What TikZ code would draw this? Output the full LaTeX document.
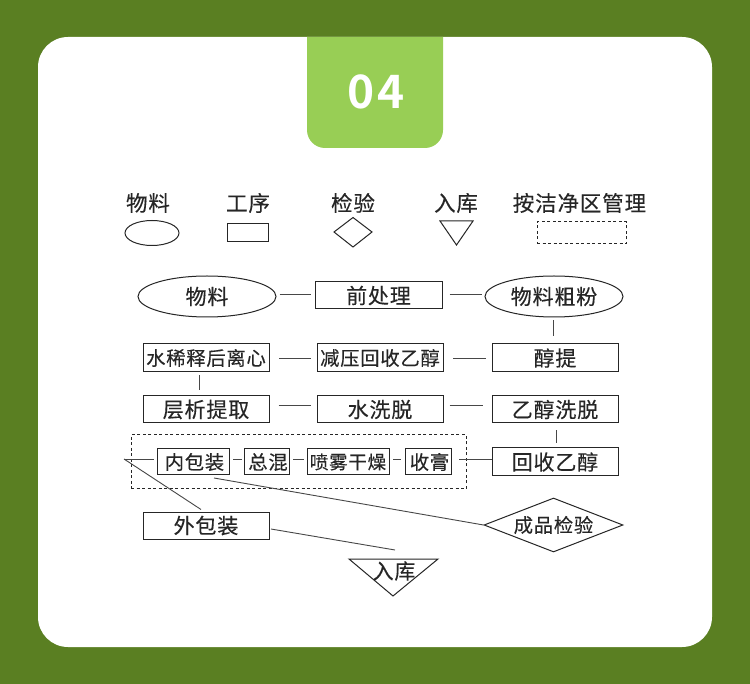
\documentclass[tikz,border=0pt]{standalone}
\usepackage{fontspec}
\usetikzlibrary{shapes.geometric}
\newfontfamily\cjk[LetterSpace=4,FakeBold=0.25]{Noto Sans CJK SC}
\newfontfamily\numfont[LetterSpace=8]{Noto Sans CJK SC Bold}
\definecolor{bggreen}{HTML}{5A7F22}
\definecolor{badgegreen}{HTML}{98CE55}
\definecolor{ink}{HTML}{262626}
\newcommand{\legtxt}{\cjk\fontsize{21.5}{21.5}\selectfont}
\newcommand{\bigtxt}{\cjk\fontsize{21}{21}\selectfont}
\newcommand{\midtxt}{\cjk\fontsize{19.3}{19.3}\selectfont}
\newcommand{\smtxt}{\cjk\fontsize{18.5}{18.5}\selectfont}
\tikzset{
  lbl/.style={inner sep=0pt,text=ink,font=\legtxt},
  rectbox/.style={draw=ink,line width=1pt,inner sep=0pt,text=ink,font=\bigtxt,minimum width=126pt,minimum height=27pt},
  smallbox/.style={rectbox,font=\midtxt,minimum height=26pt},
  ovalbox/.style={ellipse,draw=ink,line width=1pt,inner sep=0pt,text=ink,font=\bigtxt,minimum width=138pt,minimum height=41pt},
  conn/.style={draw=ink!85,line width=0.9pt},
  outline/.style={draw=ink,line width=1pt},
  dashbox/.style={draw=ink,line width=1pt,dash pattern=on 3pt off 2.5pt,inner sep=0pt}
}
\begin{document}
\begin{tikzpicture}[x=1pt,y=-1pt]
\useasboundingbox (0,0) rectangle (750,684);
\fill[bggreen] (0,0) rectangle (750,684);
\fill[white,rounded corners=30pt] (38,37) rectangle (712,647);
\fill[badgegreen] (307,37) -- (443,37) -- (443,130) arc[start angle=0,end angle=90,radius=18pt,y radius=-18pt] -- (325,148) arc[start angle=90,end angle=180,radius=18pt,y radius=-18pt] -- cycle;
\node[inner sep=0pt,text=white,font=\numfont\fontsize{46}{46}\selectfont] (num) at (376,92) {04};

% legend
\node[lbl] (l1) at (148,203) {物料};
\node[lbl] (l2) at (248,203) {工序};
\node[lbl] (l3) at (353,203) {检验};
\node[lbl] (l4) at (456,203) {入库};
\node[lbl] (l5) at (579.5,203) {按洁净区管理};
\node[ellipse,draw=ink,line width=1pt,minimum width=54pt,minimum height=25pt,inner sep=0pt] (s1) at (152,233) {};
\node[draw=ink,line width=1pt,minimum width=41pt,minimum height=18pt,inner sep=0pt] (s2) at (247.5,233) {};
\draw[outline] (334,232) -- (353,217.5) -- (372,232) -- (353,247) -- cycle;
\draw[outline] (440,221) -- (473,221) -- (456.5,245) -- cycle;
\node[dashbox,minimum width=89pt,minimum height=22pt] (s5) at (581.5,233) {};

% flow
\node[ovalbox] (wl) at (207,296.5) {物料};
\node[rectbox,minimum width=127pt] (qcl) at (378.5,295.5) {前处理};
\node[ovalbox] (wlcf) at (554,296.5) {物料粗粉};
\node[rectbox,minimum height=28pt,font=\midtxt] (sxs) at (206,358) {水稀释后离心};
\node[rectbox,minimum height=28pt,font=\midtxt] (jy) at (380,358) {减压回收乙醇};
\node[rectbox,minimum height=28pt] (ct) at (555,358) {醇提};
\node[rectbox] (cx) at (206,409.5) {层析提取};
\node[rectbox] (sxt) at (380,409.5) {水洗脱};
\node[rectbox] (yx) at (555,409.5) {乙醇洗脱};
\node[dashbox,minimum width=335pt,minimum height=54pt] (clean) at (298.5,462) {};
\node[smallbox,minimum width=72pt] (nbz) at (193,462) {\hspace*{3pt}内包装};
\node[smallbox,minimum width=45pt] (zh) at (266.5,462) {\hspace*{3pt}总混};
\node[smallbox,minimum width=82pt,font=\smtxt] (pw) at (348,462) {喷雾干燥};
\node[smallbox,minimum width=46pt] (sg) at (428,462) {\hspace*{3pt}收膏};
\node[rectbox,minimum height=28pt] (hs) at (555,462) {回收乙醇};
\node[rectbox] (wbz) at (206,525.5) {外包装};
\node[diamond,draw=ink,line width=1pt,inner sep=0pt,aspect=2.57,minimum width=139pt,minimum height=54pt,text=ink,font=\midtxt] (jy2) at (553.5,525) {成品检验};
\draw[outline] (349,559) -- (438,559) -- (393,596) -- cycle;
\node[lbl,font=\bigtxt] (rk) at (394,571) {入库};
\coordinate (bend) at (124,459);
\coordinate (wbzin) at (201,509.5);
\coordinate (nbzout) at (214,478);
\coordinate (wbzout) at (271,529);
\coordinate (rkin) at (395,550);

% connectors
\draw[conn,shorten <=3pt,shorten >=4pt] ([yshift=2pt]wl.east) -- ([yshift=1pt]qcl.west);
\draw[conn,shorten <=7pt,shorten >=3pt] ([yshift=1pt]qcl.east) -- ([yshift=2pt]wlcf.west);
\draw[conn,shorten <=3pt,shorten >=7pt] ([xshift=-1pt]wlcf.south) -- ([xshift=-2pt]ct.north);
\draw[conn,shorten <=6pt,shorten >=9pt] (ct.west) -- (jy.east);
\draw[conn,shorten <=6pt,shorten >=9pt] (jy.west) -- (sxs.east);
\draw[conn,shorten <=3pt,shorten >=5pt] ([xshift=-7pt]sxs.south) -- ([xshift=-7pt]cx.north);
\draw[conn,shorten <=9pt,shorten >=6pt] ([yshift=4pt]cx.east) -- ([yshift=4pt]sxt.west);
\draw[conn,shorten <=6pt,shorten >=9pt] ([yshift=4pt]sxt.east) -- ([yshift=4pt]yx.west);
\draw[conn,shorten <=7pt,shorten >=4pt] ([xshift=1pt]yx.south) -- ([xshift=1pt]hs.north);
\draw[conn,shorten >=7pt] ([yshift=3pt]hs.west) -- ([yshift=3pt]sg.east);
\draw[conn,shorten <=4pt,shorten >=3pt] ([yshift=3pt]sg.west) -- ([yshift=3pt]pw.east);
\draw[conn,shorten <=3pt,shorten >=3pt] ([yshift=3pt]pw.west) -- ([yshift=3pt]zh.east);
\draw[conn,shorten <=2pt,shorten >=3pt] ([yshift=3pt]zh.west) -- ([yshift=3pt]nbz.east);
\draw[conn,shorten <=3pt] ([yshift=3pt]nbz.west) -- (bend);
\draw[conn] (bend) -- (wbzin);
\draw[conn] (nbzout) -- (jy2.west);
\draw[conn] (wbzout) -- (rkin);
\end{tikzpicture}
\end{document}
